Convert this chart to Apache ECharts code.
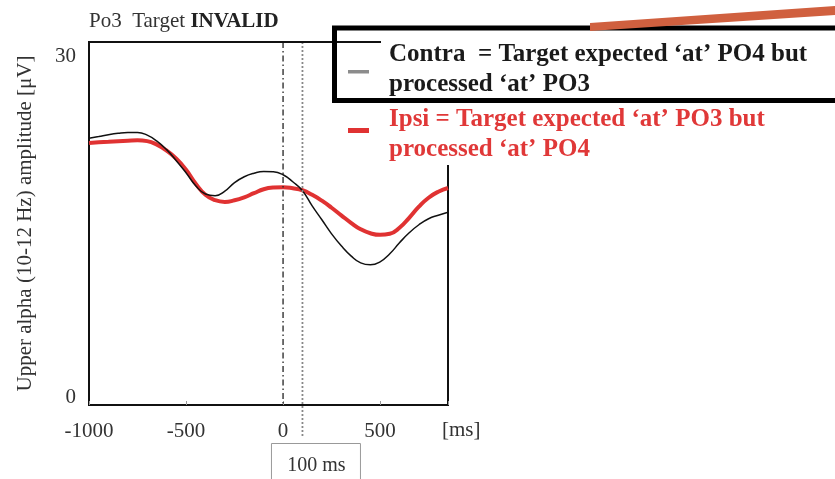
<!DOCTYPE html>
<html><head><meta charset="utf-8">
<script src="https://cdn.jsdelivr.net/npm/echarts/dist/echarts.min.js"></script>
<style>html,body{margin:0;padding:0;background:#fff}#c{width:835px;height:479px}</style>
</head><body><div id="c"></div>
<script>
const times = [-1000,-950,-900,-850,-800,-750,-700,-650,-600,-550,-500,-450,-400,-350,-300,-250,-200,-150,-100,-50,0,50,100,150,200,250,300,350,400,450,500,550,600,650,700,750,800,850];
const contra = [23.52,23.67,23.83,23.95,24.02,24.03,23.79,23.26,22.51,21.54,20.48,19.33,18.60,18.45,18.85,19.60,20.12,20.43,20.58,20.56,20.30,19.68,18.89,17.56,16.33,15.09,14.03,13.15,12.53,12.36,12.62,13.33,14.30,15.18,15.89,16.42,16.73,16.99];
const ipsi = [23.10,23.16,23.21,23.26,23.30,23.33,23.26,22.95,22.42,21.71,20.74,19.51,18.53,18.05,17.90,18.05,18.31,18.67,19.02,19.17,19.20,19.11,18.93,18.53,18.01,17.39,16.72,16.06,15.49,15.14,15.00,15.09,15.62,16.50,17.48,18.27,18.80,19.13];
const xTickLabels = [-1000,-500,0,500];
const yTickLabels = [0,30];
const stimulusOnset = 0;
const windowMark = 100;
const legendContra = ['Contra  = Target expected \u2018at\u2019 PO4 but', 'processed \u2018at\u2019 PO3'];
const legendIpsi = ['Ipsi = Target expected \u2018at\u2019 PO3 but', 'processed \u2018at\u2019 PO4'];

const SERIF = '"Liberation Serif", "DejaVu Serif", serif';
const chart = echarts.init(document.getElementById('c'), null, {renderer: 'canvas'});
const pairs = (ys) => times.map((t, i) => [t, ys[i]]);

chart.setOption({
  animation: false,
  backgroundColor: '#fff',
  title: {
    left: 84, top: 6,
    text: '{a|Po3  Target }{b|INVALID}',
    textStyle: {
      fontWeight: 'normal',
      rich: {
        a: {fontFamily: SERIF, fontSize: 21, fontWeight: 'normal', color: '#333'},
        b: {fontFamily: SERIF, fontSize: 21, fontWeight: 'bold', color: '#222'}
      }
    }
  },
  grid: {left: 89, right: 387, top: 42, bottom: 74, show: true, borderColor: '#111', borderWidth: 2, backgroundColor: 'transparent'},
  xAxis: {
    type: 'value', min: -1000, max: 850, interval: 500,
    axisLine: {show: true, onZero: false, lineStyle: {color: '#111', width: 2}},
    axisTick: {show: true, inside: true, length: 4, lineStyle: {color: '#999'}},
    splitLine: {show: false},
    axisLabel: {
      fontFamily: SERIF, fontSize: 21, color: '#333', margin: 16,
      formatter: v => xTickLabels.includes(v) ? String(v) : ''
    }
  },
  yAxis: {
    type: 'value', min: 0, max: 32, interval: 30,
    name: 'Upper alpha (10-12 Hz) amplitude [\u03bcV]',
    nameLocation: 'middle', nameGap: 53, nameRotate: 90,
    nameTextStyle: {fontFamily: SERIF, fontSize: 21, color: '#333'},
    axisLine: {show: true, onZero: false, lineStyle: {color: '#111', width: 2}},
    axisTick: {show: false},
    splitLine: {show: false},
    axisLabel: {
      fontFamily: SERIF, fontSize: 21, color: '#333', margin: 13, verticalAlign: 'bottom',
      formatter: v => yTickLabels.includes(v) ? '{s|' + v + '}' : '',
      rich: {s: {fontFamily: SERIF, fontSize: 21, color: '#333', lineHeight: 16}}
    }
  },
  series: [
    {
      name: 'Ipsi', type: 'line', data: pairs(ipsi), smooth: true, showSymbol: false, z: 3,
      lineStyle: {color: '#e03232', width: 4}
    },
    {
      name: 'Contra', type: 'line', data: pairs(contra), smooth: true, showSymbol: false, z: 4,
      lineStyle: {color: '#111', width: 1.5}
    }
  ]
});

const pOn = chart.convertToPixel({gridIndex: 0}, [stimulusOnset, 0]);
const pOnTop = chart.convertToPixel({gridIndex: 0}, [stimulusOnset, 32]);
const p0 = chart.convertToPixel({gridIndex: 0}, [windowMark, 0]);
const pTop = chart.convertToPixel({gridIndex: 0}, [windowMark, 32]);
const mx = p0[0], my = p0[1];
const legendFont = 'bold 25px ' + SERIF;
chart.setOption({
  graphic: [
    {type: 'line', z: 5, shape: {x1: pOn[0], y1: pOnTop[1], x2: pOn[0], y2: pOn[1]}, style: {stroke: '#222', lineWidth: 1.3, lineDash: [6, 3, 1.5, 3]}},
    {type: 'line', z: 5, shape: {x1: mx, y1: pTop[1], x2: mx, y2: my + 33}, style: {stroke: '#888', lineWidth: 1.8, lineDash: [2, 2]}},
    {type: 'rect', z: 5, shape: {x: mx - 31, y: my + 38.5, width: 89, height: 50}, style: {fill: '#fff', stroke: '#999', lineWidth: 1}},
    {type: 'text', z: 6, x: mx + 14, y: my + 61, style: {text: windowMark + ' ms', font: '20px ' + SERIF, fill: '#333', textAlign: 'center', textVerticalAlign: 'middle'}},
    {type: 'text', z: 6, x: 442, y: 430, style: {text: '[ms]', font: '21px ' + SERIF, fill: '#333', textAlign: 'left', textVerticalAlign: 'middle'}},
    {type: 'rect', z: 50, shape: {x: 381, y: 0, width: 460, height: 165}, style: {fill: '#fff'}},
    {type: 'line', z: 51, shape: {x1: 89, y1: 42, x2: 380, y2: 42}, style: {stroke: '#111', lineWidth: 2}},
    {type: 'rect', z: 52, shape: {x: 334.5, y: 28, width: 520, height: 72.5}, style: {fill: 'none', stroke: '#000', lineWidth: 5}},
    {type: 'polygon', z: 53, shape: {points: [[590, 23], [835, 6], [835, 15], [590, 31]]}, style: {fill: '#d0603f'}},
    {type: 'rect', z: 53, shape: {x: 348, y: 70, width: 21, height: 3.5}, style: {fill: '#8c8c8c'}},
    {type: 'rect', z: 53, shape: {x: 348, y: 128, width: 21, height: 5}, style: {fill: '#e03232'}},
    {type: 'text', z: 53, x: 389, y: 55, style: {text: legendContra[0], font: legendFont, fill: '#1a1a1a', textVerticalAlign: 'middle'}},
    {type: 'text', z: 53, x: 389, y: 85, style: {text: legendContra[1], font: legendFont, fill: '#1a1a1a', textVerticalAlign: 'middle'}},
    {type: 'text', z: 53, x: 389, y: 120, style: {text: legendIpsi[0], font: legendFont, fill: '#e03838', textVerticalAlign: 'middle'}},
    {type: 'text', z: 53, x: 389, y: 150, style: {text: legendIpsi[1], font: legendFont, fill: '#e03838', textVerticalAlign: 'middle'}}
  ]
});
</script>
</body></html>
